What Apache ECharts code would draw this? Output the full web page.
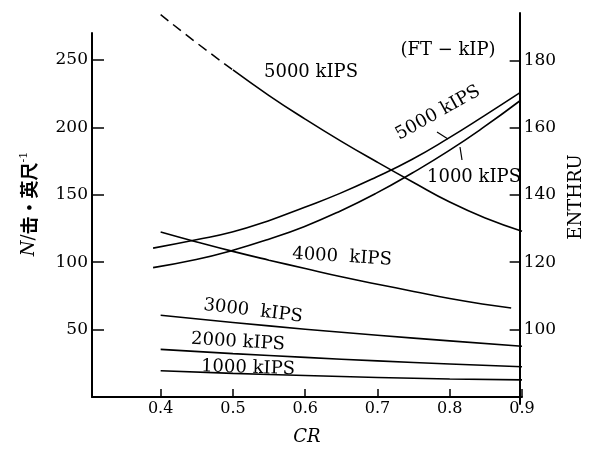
<!DOCTYPE html>
<html>
<head>
<meta charset="utf-8">
<script src="https://cdn.jsdelivr.net/npm/echarts@6/dist/echarts.min.js"></script>
<style>
  html, body { margin: 0; padding: 0; background: #fff; }
  #chart { width: 593px; height: 451px; }
</style>
</head>
<body>
<div id="chart"></div>
<script>
// CR positions used by the curves
const crSteps = [0.40, 0.45, 0.50, 0.55, 0.60, 0.65, 0.70, 0.75, 0.80, 0.85, 0.90];
const cr4000 = [0.40, 0.45, 0.50, 0.55, 0.60, 0.65, 0.70, 0.75, 0.80, 0.85, 0.885];
const crEnthru = [0.39, 0.45, 0.50, 0.55, 0.60, 0.65, 0.70, 0.75, 0.80, 0.85, 0.90];
const crTenths = [0.4, 0.5, 0.6, 0.7, 0.8, 0.9];

// N (blows per foot), left axis
const n5000 = [283.6, 262.6, 242.6, 223.6, 206.1, 189.6, 174.1, 159.1, 144.6, 132.6, 123.0];
const n4000 = [122.4, 115.0, 108.0, 101.5, 95.3, 89.2, 83.7, 78.3, 73.0, 68.6, 66.0];
const n3000 = [60.6, 55.3, 50.3, 45.8, 41.6, 37.7];
const n2000 = [35.3, 32.2, 29.4, 26.8, 24.5, 22.4];
const n1000 = [19.5, 17.5, 15.9, 14.5, 13.4, 12.7];

// ENTHRU (FT-kIP), right axis
const enthru5000 = [124.2, 126.7, 129.0, 132.3, 136.3, 140.5, 145.3, 150.6, 156.8, 163.5, 170.4];
const enthru1000 = [118.4, 120.8, 123.5, 126.8, 130.6, 135.2, 140.5, 146.5, 153.0, 160.2, 168.0];

// tick labels
const crTicks = [0.4, 0.5, 0.6, 0.7, 0.8, 0.9];
const nTicks = [50, 100, 150, 200, 250];
const enthruTicks = [100, 120, 140, 160, 180];

const pairs = (xs, ys) => xs.map((x, i) => [x, ys[i]]);

const serif = "DejaVu Serif";
const ink = "#000";

const chart = echarts.init(document.getElementById("chart"));

const lineSeries = (name, data, axis, extra) => Object.assign({
  name: name,
  type: "line",
  data: data,
  xAxisIndex: axis,
  yAxisIndex: axis,
  smooth: true,
  showSymbol: false,
  symbol: "none",
  silent: true,
  lineStyle: { color: ink, width: 1.6 }
}, extra || {});

const label = (text, x, y, rotation) => ({
  type: "text",
  x: x,
  y: y,
  rotation: rotation || 0,
  style: { text: text, font: "18px " + serif, fill: ink, align: "center", verticalAlign: "middle" }
});

const option = {
  animation: false,
  backgroundColor: "#fff",
  grid: [
    { left: 92, right: 71, top: 33, bottom: 47 },
    { left: 92, right: 71, top: 13, bottom: 47 }
  ],
  xAxis: [
    {
      type: "value",
      gridIndex: 0,
      min: 0.305,
      max: 0.9,
      name: "CR",
      nameLocation: "middle",
      nameGap: 31,
      nameTextStyle: { fontFamily: serif, fontStyle: "italic", fontSize: 18, color: ink },
      axisLine: { lineStyle: { color: ink, width: 2 } },
      axisTick: { inside: true, length: 8, customValues: crTicks, lineStyle: { color: ink, width: 1.5 } },
      axisLabel: {
        customValues: crTicks,
        margin: 4,
        fontFamily: serif,
        fontSize: 16,
        color: ink,
        formatter: (v) => v.toFixed(1)
      },
      splitLine: { show: false }
    },
    {
      type: "value",
      gridIndex: 1,
      min: 0.305,
      max: 0.9,
      show: false
    }
  ],
  yAxis: [
    {
      type: "value",
      gridIndex: 0,
      position: "left",
      min: 0,
      max: 270,
      name: "{i|N}{t|/}{c|击·英尺}{s|-1}",
      nameLocation: "middle",
      nameRotate: 90,
      nameGap: 52,
      nameTextStyle: {
        color: ink,
        padding: [0, 0, 0, 22],
        rich: {
          i: { fontFamily: serif, fontStyle: "italic", fontSize: 18, color: ink },
          t: { fontFamily: serif, fontSize: 18, color: ink },
          c: { fontFamily: "Noto Sans CJK SC", fontWeight: "bold", fontSize: 18, color: ink },
          s: { fontFamily: serif, fontSize: 11, color: ink, padding: [0, 0, 10, 0] }
        }
      },
      axisLine: { show: true, lineStyle: { color: ink, width: 2 } },
      axisTick: { show: true, inside: true, length: 12, customValues: nTicks, lineStyle: { color: ink, width: 1.5 } },
      axisLabel: { customValues: nTicks, margin: 4, fontFamily: serif, fontSize: 17, color: ink },
      splitLine: { show: false }
    },
    {
      type: "value",
      gridIndex: 1,
      position: "right",
      min: 77.8,
      max: 194.2,
      name: "ENTHRU",
      nameLocation: "middle",
      nameRotate: 90,
      nameGap: 42,
      nameTextStyle: { fontFamily: serif, fontSize: 18, color: ink, padding: [0, 0, 0, 23] },
      axisLine: { show: true, lineStyle: { color: ink, width: 2 } },
      axisTick: { show: true, inside: true, length: 10, customValues: enthruTicks, lineStyle: { color: ink, width: 1.5 } },
      axisLabel: { customValues: enthruTicks, margin: 4, fontFamily: serif, fontSize: 17, color: ink },
      splitLine: { show: false }
    }
  ],
  series: [
    lineSeries("N 5000 kIPS (dashed)", pairs(crSteps.slice(0, 3), n5000.slice(0, 3)), 0, {
      clip: false,
      lineStyle: { color: ink, width: 1.5, type: [10, 6] }
    }),
    lineSeries("N 5000 kIPS", pairs(crSteps.slice(2), n5000.slice(2)), 0, { clip: false }),
    lineSeries("N 4000 kIPS", pairs(cr4000, n4000), 0),
    lineSeries("N 3000 kIPS", pairs(crTenths, n3000), 0),
    lineSeries("N 2000 kIPS", pairs(crTenths, n2000), 0),
    lineSeries("N 1000 kIPS", pairs(crTenths, n1000), 0),
    lineSeries("ENTHRU 5000 kIPS", pairs(crEnthru, enthru5000), 1),
    lineSeries("ENTHRU 1000 kIPS", pairs(crEnthru, enthru1000), 1)
  ],
  graphic: [
    label("5000 kIPS", 311, 72),
    label("(FT − kIP)", 448, 50),
    label("5000 kIPS", 438, 113, 0.51),
    label("1000 kIPS", 474, 177),
    label("4000  kIPS", 342, 257, -0.06),
    label("3000  kIPS", 253, 311, -0.12),
    label("2000 kIPS", 238, 342, -0.06),
    label("1000 kIPS", 248, 368, -0.03),
    // leader strokes from the labels to the ENTHRU curves
    { type: "line", shape: { x1: 437, y1: 132, x2: 448, y2: 139 }, style: { stroke: ink, lineWidth: 1.2 } },
    { type: "line", shape: { x1: 460, y1: 147, x2: 462, y2: 160 }, style: { stroke: ink, lineWidth: 1.2 } }
  ]
};

chart.setOption(option);
</script>
</body>
</html>
